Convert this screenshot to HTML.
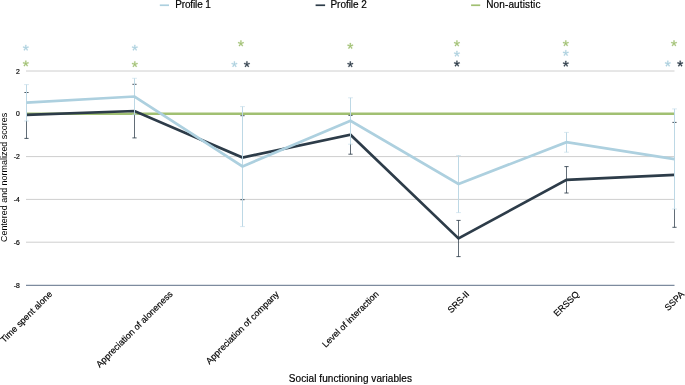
<!DOCTYPE html>
<html><head><meta charset="utf-8"><title>Chart</title>
<style>html,body{margin:0;padding:0;background:#fff}svg{display:block;will-change:transform;opacity:.999}</style></head>
<body>
<svg width="685" height="385" viewBox="0 0 685 385" font-family="Liberation Sans, sans-serif">
<style>text{stroke:#000;stroke-width:.18px}text.s{stroke:none}</style>
<rect width="685" height="385" fill="#fff"/>
<line x1="26" x2="674.5" y1="71.0" y2="71.0" stroke="#cecece" stroke-width="1"/>
<line x1="26" x2="674.5" y1="156.6" y2="156.6" stroke="#cecece" stroke-width="1"/>
<line x1="26" x2="674.5" y1="199.4" y2="199.4" stroke="#cecece" stroke-width="1"/>
<line x1="26" x2="674.5" y1="242.2" y2="242.2" stroke="#cecece" stroke-width="1"/>
<line x1="26" x2="674.5" y1="285.4" y2="285.4" stroke="#7d8b9e" stroke-width="1.4"/>
<text x="19.8" y="73.6" font-size="6.8" text-anchor="end" fill="#000">2</text>
<text x="19.8" y="116.4" font-size="6.8" text-anchor="end" fill="#000">0</text>
<text x="19.8" y="159.2" font-size="6.8" text-anchor="end" fill="#000">-2</text>
<text x="19.8" y="202.0" font-size="6.8" text-anchor="end" fill="#000">-4</text>
<text x="19.8" y="244.8" font-size="6.8" text-anchor="end" fill="#000">-6</text>
<text x="19.8" y="287.6" font-size="6.8" text-anchor="end" fill="#000">-8</text>
<text class="s" transform="translate(7.3,177.45) rotate(-90)" font-size="8.95" text-anchor="middle" fill="#000">Centered and normalized scores</text>
<text x="288.85" y="381.5" font-size="10" textLength="123.1" fill="#000">Social functioning variables</text>
<line x1="159.8" x2="169" y1="5.25" y2="5.25" stroke="#add0df" stroke-width="1.7"/>
<text x="175.2" y="8" font-size="10" textLength="35.6" fill="#000">Profile 1</text>
<line x1="315.6" x2="325.1" y1="5.25" y2="5.25" stroke="#2d3c49" stroke-width="1.7"/>
<text x="330.5" y="8" font-size="10" textLength="36.3" fill="#000">Profile 2</text>
<line x1="471.1" x2="480.2" y1="5.25" y2="5.25" stroke="#a1c072" stroke-width="1.7"/>
<text x="486.2" y="8" font-size="10" textLength="54.2" fill="#000">Non-autistic</text>
<line x1="26" x2="674.5" y1="113.8" y2="113.8" stroke="#a1c072" stroke-width="2.4"/>
<path d="M26.5 92.5V138.4" stroke="#2d3c49" stroke-width="0.75" fill="none"/>
<path d="M24.4 92.5H28.6M24.4 138.4H28.6" stroke="#2d3c49" stroke-width="0.85" fill="none"/>
<path d="M134.5 84.3V137.9" stroke="#2d3c49" stroke-width="0.75" fill="none"/>
<path d="M132.4 84.3H136.6M132.4 137.9H136.6" stroke="#2d3c49" stroke-width="0.85" fill="none"/>
<path d="M242.5 115.7V199.7" stroke="#2d3c49" stroke-width="0.75" fill="none"/>
<path d="M240.4 115.7H244.6M240.4 199.7H244.6" stroke="#2d3c49" stroke-width="0.85" fill="none"/>
<path d="M350.5 115.4V154.2" stroke="#2d3c49" stroke-width="0.75" fill="none"/>
<path d="M348.4 115.4H352.6M348.4 154.2H352.6" stroke="#2d3c49" stroke-width="0.85" fill="none"/>
<path d="M458.5 220.4V256.6" stroke="#2d3c49" stroke-width="0.75" fill="none"/>
<path d="M456.4 220.4H460.6M456.4 256.6H460.6" stroke="#2d3c49" stroke-width="0.85" fill="none"/>
<path d="M566.5 166.6V193.0" stroke="#2d3c49" stroke-width="0.75" fill="none"/>
<path d="M564.4 166.6H568.6M564.4 193.0H568.6" stroke="#2d3c49" stroke-width="0.85" fill="none"/>
<path d="M674.5 122.4V227.3" stroke="#2d3c49" stroke-width="0.75" fill="none"/>
<path d="M672.4 122.4H676.6M672.4 227.3H676.6" stroke="#2d3c49" stroke-width="0.85" fill="none"/>
<polyline fill="none" stroke="#2d3c49" stroke-width="2.7" stroke-linejoin="miter" points="26.5,114.9 134.5,111.0 242.5,157.6 350.5,134.7 458.5,238.4 566.5,179.8 674.5,174.9"/>
<path d="M26.5 84.6V121.0" stroke="#bdd8e5" stroke-width="1.0" fill="none"/>
<path d="M24.1 84.6H28.9M24.1 121.0H28.9" stroke="#bdd8e5" stroke-width="0.6" fill="none"/>
<path d="M134.5 78.3V114.7" stroke="#bdd8e5" stroke-width="1.0" fill="none"/>
<path d="M132.1 78.3H136.9M132.1 114.7H136.9" stroke="#bdd8e5" stroke-width="0.6" fill="none"/>
<path d="M242.5 106.6V226.6" stroke="#bdd8e5" stroke-width="1.0" fill="none"/>
<path d="M240.1 106.6H244.9M240.1 226.6H244.9" stroke="#bdd8e5" stroke-width="0.6" fill="none"/>
<path d="M350.5 97.8V144.2" stroke="#bdd8e5" stroke-width="1.0" fill="none"/>
<path d="M348.1 97.8H352.9M348.1 144.2H352.9" stroke="#bdd8e5" stroke-width="0.6" fill="none"/>
<path d="M458.5 155.5V212.6" stroke="#bdd8e5" stroke-width="1.0" fill="none"/>
<path d="M456.1 155.5H460.9M456.1 212.6H460.9" stroke="#bdd8e5" stroke-width="0.6" fill="none"/>
<path d="M566.5 132.4V152.2" stroke="#bdd8e5" stroke-width="1.0" fill="none"/>
<path d="M564.1 132.4H568.9M564.1 152.2H568.9" stroke="#bdd8e5" stroke-width="0.6" fill="none"/>
<path d="M674.5 108.9V209.0" stroke="#bdd8e5" stroke-width="1.0" fill="none"/>
<path d="M672.1 108.9H676.9M672.1 209.0H676.9" stroke="#bdd8e5" stroke-width="0.6" fill="none"/>
<polyline fill="none" stroke="#add0df" stroke-width="2.7" stroke-linejoin="miter" points="26.5,102.7 134.5,96.5 242.5,166.4 350.5,120.8 458.5,184.0 566.5,142.2 674.5,159.2"/>
<path transform="translate(25.80,47.70) scale(0.0078,-0.0078) translate(-399,-1049.5)" d="M456 1114 720 1217 765 1085 483 1012 668 762 549 690 399 948 243 692 124 764 313 1012 33 1085 78 1219 345 1112 333 1409H469Z" fill="#add0df" stroke="#add0df" stroke-width="40"/>
<path transform="translate(25.80,63.50) scale(0.0078,-0.0078) translate(-399,-1049.5)" d="M456 1114 720 1217 765 1085 483 1012 668 762 549 690 399 948 243 692 124 764 313 1012 33 1085 78 1219 345 1112 333 1409H469Z" fill="#a1c072" stroke="#a1c072" stroke-width="40"/>
<path transform="translate(134.80,47.70) scale(0.0078,-0.0078) translate(-399,-1049.5)" d="M456 1114 720 1217 765 1085 483 1012 668 762 549 690 399 948 243 692 124 764 313 1012 33 1085 78 1219 345 1112 333 1409H469Z" fill="#add0df" stroke="#add0df" stroke-width="40"/>
<path transform="translate(134.80,64.20) scale(0.0078,-0.0078) translate(-399,-1049.5)" d="M456 1114 720 1217 765 1085 483 1012 668 762 549 690 399 948 243 692 124 764 313 1012 33 1085 78 1219 345 1112 333 1409H469Z" fill="#a1c072" stroke="#a1c072" stroke-width="40"/>
<path transform="translate(240.90,43.40) scale(0.0078,-0.0078) translate(-399,-1049.5)" d="M456 1114 720 1217 765 1085 483 1012 668 762 549 690 399 948 243 692 124 764 313 1012 33 1085 78 1219 345 1112 333 1409H469Z" fill="#a1c072" stroke="#a1c072" stroke-width="40"/>
<path transform="translate(234.40,64.20) scale(0.0078,-0.0078) translate(-399,-1049.5)" d="M456 1114 720 1217 765 1085 483 1012 668 762 549 690 399 948 243 692 124 764 313 1012 33 1085 78 1219 345 1112 333 1409H469Z" fill="#add0df" stroke="#add0df" stroke-width="40"/>
<path transform="translate(246.90,64.20) scale(0.0078,-0.0078) translate(-399,-1049.5)" d="M456 1114 720 1217 765 1085 483 1012 668 762 549 690 399 948 243 692 124 764 313 1012 33 1085 78 1219 345 1112 333 1409H469Z" fill="#2d3c49" stroke="#2d3c49" stroke-width="40"/>
<path transform="translate(350.30,45.90) scale(0.0078,-0.0078) translate(-399,-1049.5)" d="M456 1114 720 1217 765 1085 483 1012 668 762 549 690 399 948 243 692 124 764 313 1012 33 1085 78 1219 345 1112 333 1409H469Z" fill="#a1c072" stroke="#a1c072" stroke-width="40"/>
<path transform="translate(350.30,64.30) scale(0.0078,-0.0078) translate(-399,-1049.5)" d="M456 1114 720 1217 765 1085 483 1012 668 762 549 690 399 948 243 692 124 764 313 1012 33 1085 78 1219 345 1112 333 1409H469Z" fill="#2d3c49" stroke="#2d3c49" stroke-width="40"/>
<path transform="translate(456.90,43.40) scale(0.0078,-0.0078) translate(-399,-1049.5)" d="M456 1114 720 1217 765 1085 483 1012 668 762 549 690 399 948 243 692 124 764 313 1012 33 1085 78 1219 345 1112 333 1409H469Z" fill="#a1c072" stroke="#a1c072" stroke-width="40"/>
<path transform="translate(456.90,53.70) scale(0.0078,-0.0078) translate(-399,-1049.5)" d="M456 1114 720 1217 765 1085 483 1012 668 762 549 690 399 948 243 692 124 764 313 1012 33 1085 78 1219 345 1112 333 1409H469Z" fill="#add0df" stroke="#add0df" stroke-width="40"/>
<path transform="translate(456.90,63.60) scale(0.0078,-0.0078) translate(-399,-1049.5)" d="M456 1114 720 1217 765 1085 483 1012 668 762 549 690 399 948 243 692 124 764 313 1012 33 1085 78 1219 345 1112 333 1409H469Z" fill="#2d3c49" stroke="#2d3c49" stroke-width="40"/>
<path transform="translate(565.80,43.30) scale(0.0078,-0.0078) translate(-399,-1049.5)" d="M456 1114 720 1217 765 1085 483 1012 668 762 549 690 399 948 243 692 124 764 313 1012 33 1085 78 1219 345 1112 333 1409H469Z" fill="#a1c072" stroke="#a1c072" stroke-width="40"/>
<path transform="translate(565.80,53.00) scale(0.0078,-0.0078) translate(-399,-1049.5)" d="M456 1114 720 1217 765 1085 483 1012 668 762 549 690 399 948 243 692 124 764 313 1012 33 1085 78 1219 345 1112 333 1409H469Z" fill="#add0df" stroke="#add0df" stroke-width="40"/>
<path transform="translate(565.80,63.70) scale(0.0078,-0.0078) translate(-399,-1049.5)" d="M456 1114 720 1217 765 1085 483 1012 668 762 549 690 399 948 243 692 124 764 313 1012 33 1085 78 1219 345 1112 333 1409H469Z" fill="#2d3c49" stroke="#2d3c49" stroke-width="40"/>
<path transform="translate(674.00,43.30) scale(0.0078,-0.0078) translate(-399,-1049.5)" d="M456 1114 720 1217 765 1085 483 1012 668 762 549 690 399 948 243 692 124 764 313 1012 33 1085 78 1219 345 1112 333 1409H469Z" fill="#a1c072" stroke="#a1c072" stroke-width="40"/>
<path transform="translate(667.80,63.60) scale(0.0078,-0.0078) translate(-399,-1049.5)" d="M456 1114 720 1217 765 1085 483 1012 668 762 549 690 399 948 243 692 124 764 313 1012 33 1085 78 1219 345 1112 333 1409H469Z" fill="#add0df" stroke="#add0df" stroke-width="40"/>
<path transform="translate(680.20,63.60) scale(0.0078,-0.0078) translate(-399,-1049.5)" d="M456 1114 720 1217 765 1085 483 1012 668 762 549 690 399 948 243 692 124 764 313 1012 33 1085 78 1219 345 1112 333 1409H469Z" fill="#2d3c49" stroke="#2d3c49" stroke-width="40"/>
<g font-size="9" fill="#000">
<text transform="translate(52.8,294.7) rotate(-45)" text-anchor="end">Time spent alone</text>
<text transform="translate(173.1,294.7) rotate(-45)" text-anchor="end">Appreciation of aloneness</text>
<text transform="translate(279.5,294.7) rotate(-45)" text-anchor="end">Appreciation of company</text>
<text transform="translate(379.2,294.7) rotate(-45)" text-anchor="end">Level of interaction</text>
<text transform="translate(469.9,294.7) rotate(-45)" text-anchor="end">SRS-II</text>
<text transform="translate(579.6,294.7) rotate(-45)" text-anchor="end">ERSSQ</text>
<text transform="translate(684.7,294.7) rotate(-45)" text-anchor="end">SSPA</text>
</g>
</svg>
</body></html>
